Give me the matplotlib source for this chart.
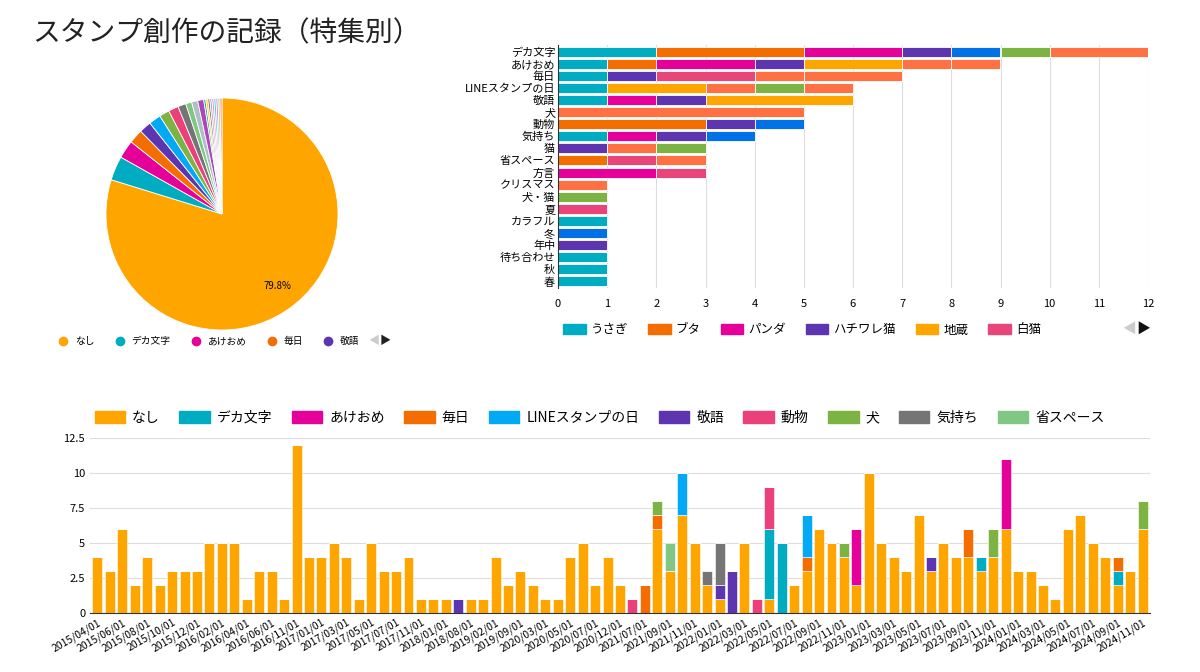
import matplotlib
matplotlib.use("Agg")
import matplotlib.pyplot as plt
import numpy as np
from matplotlib.patches import Patch
from matplotlib.lines import Line2D

plt.rcParams['font.family'] = ['Noto Sans CJK JP', 'DejaVu Sans']

# ---------- pie ----------
pie_labels = ['なし', 'デカ文字', 'あけおめ', '毎日', '敬語', 'LINEスタンプの日', '犬', '動物', '気持ち',
              '猫', '省スペース', '方言', 'クリスマス', '犬・猫', '夏', 'カラフル', '冬', '年中', '待ち合わせ', '秋', '春']
pie_values = [284, 12, 9, 7, 6, 6, 5, 5, 4, 3, 3, 3, 1, 1, 1, 1, 1, 1, 1, 1, 1]
pie_colors = ['#ffa500', '#00acc1', '#e6009a', '#f46d00', '#5e35b1', '#03a9f4', '#7cb342', '#ec407a',
              '#757575', '#81c784', '#b0bec5', '#ab47bc', '#26a69a', '#ffca28', '#8d6e63', '#9fa8da',
              '#f48fb1', '#4dd0e1', '#ce93d8', '#aed581', '#ff8a65']

# ---------- horizontal stacked bars ----------
h_cats = ['デカ文字', 'あけおめ', '毎日', 'LINEスタンプの日', '敬語', '犬', '動物', '気持ち', '猫', '省スペース',
          '方言', 'クリスマス', '犬・猫', '夏', 'カラフル', '冬', '年中', '待ち合わせ', '秋', '春']
h_segments = [
    [(2, 'c'), (3, 'o'), (2, 'm'), (1, 'p'), (1, 'b'), (1, 'g'), (2, 'r')],
    [(1, 'c'), (1, 'o'), (2, 'm'), (1, 'p'), (2, 'a'), (1, 'r'), (1, 'r')],
    [(1, 'c'), (1, 'p'), (2, 'k'), (1, 'r'), (2, 'r')],
    [(1, 'c'), (2, 'a'), (1, 'r'), (1, 'g'), (1, 'r')],
    [(1, 'c'), (1, 'm'), (1, 'p'), (3, 'a')],
    [(5, 'r')],
    [(3, 'o'), (1, 'p'), (1, 'b')],
    [(1, 'c'), (1, 'm'), (1, 'p'), (1, 'b')],
    [(1, 'p'), (1, 'r'), (1, 'g')],
    [(1, 'o'), (1, 'k'), (1, 'r')],
    [(2, 'm'), (1, 'k')],
    [(1, 'r')], [(1, 'g')], [(1, 'k')], [(1, 'c')], [(1, 'b')], [(1, 'p')], [(1, 'c')], [(1, 'c')], [(1, 'c')],
]
h_colors = {'c': '#00acc1', 'o': '#f46d00', 'm': '#e6009a', 'p': '#5e35b1', 'a': '#ffa500',
            'k': '#e8457a', 'b': '#0071e6', 'g': '#7cb342', 'r': '#ff7043'}
h_legend = [('うさぎ', 'c'), ('ブタ', 'o'), ('パンダ', 'm'), ('ハチワレ猫', 'p'), ('地蔵', 'a'), ('白猫', 'k')]

# ---------- monthly stacked bars (85 months) ----------
series_names = ['なし', 'デカ文字', 'あけおめ', '毎日', 'LINEスタンプの日', '敬語', '動物', '犬', '気持ち', '省スペース']
series_colors = ['#ffa500', '#00acc1', '#e6009a', '#f46d00', '#03a9f4', '#5e35b1', '#ec407a', '#7cb342', '#757575', '#81c784']
N_MONTHS = 85
nashi = [4,3,6,2,4,2,3,3,3,5, 5,5,1,3,3,1,12,4,4,5, 4,1,5,3,3,4,1,1,1,0, 1,1,4,2,3,2,1,1,4,5,
         2,4,2,0,0,
         6,3,7,5,2,1,0,5,0,1, 0,2,3,6,5,4,2,10,5,4, 3,7,3,5,4,4,3,4,6,3, 3,2,1,6,7,5,4,2,3,6]
# sparse series: {month index: count}
deka     = {54: 5, 55: 5, 71: 1, 82: 1}
akeome   = {61: 4, 73: 5}
mainichi = {44: 2, 45: 1, 57: 1, 70: 2, 82: 1}
line_day = {47: 3, 57: 3}
keigo    = {29: 1, 50: 1, 51: 3, 67: 1}
doubutsu = {43: 1, 53: 1, 54: 3}
inu      = {45: 1, 60: 1, 72: 2, 84: 2}
kimochi  = {49: 1, 50: 3}
shou     = {46: 2}
sparse_series = [deka, akeome, mainichi, line_day, keigo, doubutsu, inu, kimochi, shou]
date_labels = ['2015/04/01','2015/06/01','2015/08/01','2015/10/01','2015/12/01','2016/02/01','2016/04/01',
               '2016/06/01','2016/11/01','2017/01/01','2017/03/01','2017/05/01','2017/07/01','2017/11/01',
               '2018/01/01','2018/08/01','2019/02/01','2019/09/01','2020/03/01','2020/05/01','2020/07/01',
               '2020/12/01','2021/07/01','2021/09/01','2021/11/01','2022/01/01','2022/03/01','2022/05/01',
               '2022/07/01','2022/09/01','2022/11/01','2023/01/01','2023/03/01','2023/05/01','2023/07/01',
               '2023/09/01','2023/11/01','2024/01/01','2024/03/01','2024/05/01','2024/07/01','2024/09/01',
               '2024/11/01']

def dense(d):
    arr = np.zeros(N_MONTHS)
    for k, v in d.items():
        arr[k] = v
    return arr

series_values = [np.array(nashi, dtype=float)] + [dense(d) for d in sparse_series]

fig = plt.figure(figsize=(12, 6.72), dpi=100)
fig.text(0.027, 0.95, 'スタンプ創作の記録（特集別）', fontsize=20, va='center', ha='left', color='#222')

# pie
axp = fig.add_axes([77/1200, (672-214-145)/672, 290/1200, 290/672])
axp.pie(pie_values, colors=pie_colors, startangle=90, counterclock=False,
        wedgeprops=dict(edgecolor='white', linewidth=0.6))
axp.text(0.48, -0.62, '79.8%', fontsize=7, ha='center', va='center')
axp.set_aspect('equal')
handles = [Line2D([], [], marker='o', ls='', color=pie_colors[i], markersize=6) for i in range(5)]
fig.legend(handles, pie_labels[:5], loc='center left', bbox_to_anchor=(45/1200, 1-341/672), ncol=5,
           frameon=False, fontsize=7, handletextpad=0.2, columnspacing=1.6)
fig.text(368/1200, 1-341/672, '◀', color='#ccc', fontsize=8, va='center')
fig.text(380/1200, 1-341/672, '▶', color='#222', fontsize=8, va='center')

# horizontal bars
axh = fig.add_axes([558/1200, (672-288)/672, 590/1200, 243/672])
y = np.arange(len(h_cats))
for i, segs in enumerate(h_segments):
    left = 0
    for v, c in segs:
        axh.barh(i, v, left=left, color=h_colors[c], height=0.82, edgecolor='white', linewidth=0.6)
        left += v
axh.set_yticks(y)
axh.set_yticklabels(h_cats, fontsize=8)
axh.set_ylim(len(h_cats) - 0.45, -0.55)
axh.set_xlim(0, 12)
axh.set_xticks(range(13))
axh.tick_params(axis='x', labelsize=8, length=0, pad=8)
axh.tick_params(axis='y', length=0, pad=2)
axh.grid(axis='x', color='#ddd', linewidth=0.8)
axh.set_axisbelow(True)
for s in ['top', 'right', 'bottom']:
    axh.spines[s].set_visible(False)
axh.spines['left'].set_color('#333')
hh = [Patch(color=h_colors[c]) for _, c in h_legend]
fig.legend(hh, [n for n, _ in h_legend], loc='center left', bbox_to_anchor=(552/1200, 1-330/672), ncol=6,
           frameon=False, fontsize=9, handlelength=1.8, handleheight=0.9, handletextpad=0.4, columnspacing=1.6)
fig.text(1122/1200, 1-330/672, '◀', color='#ccc', fontsize=10, va='center')
fig.text(1136/1200, 1-330/672, '▶', color='#111', fontsize=10, va='center')

# monthly bars
axb = fig.add_axes([90/1200, (672-613)/672, 1060/1200, 175/672])
x = np.arange(N_MONTHS)
bottom = np.zeros(N_MONTHS)
for vals, col in zip(series_values, series_colors):
    axb.bar(x, vals, bottom=bottom, color=col, width=0.8, edgecolor='white', linewidth=0.4)
    bottom += vals
axb.set_xlim(-0.6, N_MONTHS - 0.4)
axb.set_ylim(0, 12.5)
axb.set_yticks([0, 2.5, 5, 7.5, 10, 12.5])
axb.set_yticklabels(['0', '2.5', '5', '7.5', '10', '12.5'])
axb.tick_params(axis='y', labelsize=8, length=0)
axb.set_xticks(x[::2])
axb.set_xticklabels(date_labels, rotation=30, ha='right', fontsize=7.5, rotation_mode='anchor')
axb.tick_params(axis='x', length=0, pad=3)
axb.grid(axis='y', color='#ddd', linewidth=0.8)
axb.set_axisbelow(True)
for s in ['top', 'right', 'left']:
    axb.spines[s].set_visible(False)
axb.spines['bottom'].set_color('#333')
bh = [Patch(color=c) for c in series_colors]
fig.legend(bh, series_names, loc='center left', bbox_to_anchor=(82/1200, 1-418/672), ncol=10,
           frameon=False, fontsize=10, handlelength=2.2, handleheight=0.9, handletextpad=0.5, columnspacing=1.4)

fig.savefig('out.png', dpi=100)
